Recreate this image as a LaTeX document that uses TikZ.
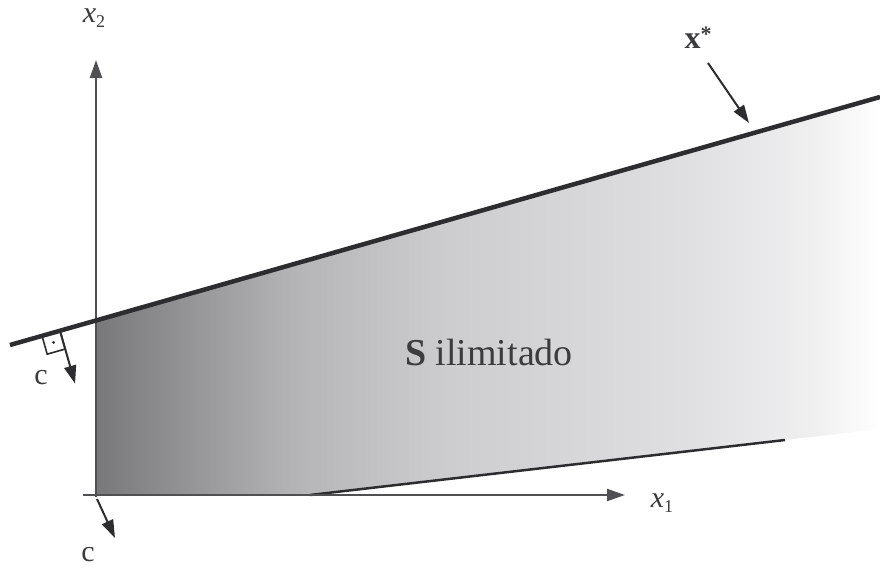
\documentclass[tikz,border=0pt]{standalone}
\usepackage{fontspec}
\setmainfont{Liberation Serif}
\usetikzlibrary{arrows.meta,calc}
\definecolor{axisc}{RGB}{80,80,82}
\definecolor{linec}{RGB}{45,45,47}
\definecolor{textc}{RGB}{60,60,62}
\pgfdeclarehorizontalshading{sfade}{100bp}{
  color(0bp)=(rgb,255:red,120;green,120;blue,123);
  color(25bp)=(rgb,255:red,120;green,120;blue,123);
  color(37.5bp)=(rgb,255:red,180;green,180;blue,183);
  color(47.5bp)=(rgb,255:red,205;green,205;blue,208);
  color(62.5bp)=(rgb,255:red,223;green,223;blue,225);
  color(71bp)=(rgb,255:red,240;green,240;blue,241);
  color(75bp)=(rgb,255:red,255;green,255;blue,255);
  color(100bp)=(rgb,255:red,255;green,255;blue,255)}
\begin{document}
\begin{tikzpicture}[x=1pt,y=-1pt,
  tip/.style={-{Triangle[length=18pt,width=12pt]}},
  axis/.style={draw=axisc,line width=2pt,tip},
  lbl/.style={text=textc,font=\fontsize{30}{32}\selectfont,inner sep=0pt}]
\useasboundingbox (0,0) rectangle (880,572);
\fill[white] (0,0) rectangle (880,572);
% key coordinates
\coordinate (L0) at (10,345);
\coordinate (L1) at (880,97);
\coordinate (O) at (96,495);
\coordinate (B0) at (310,495);
\coordinate (B1) at (785,440);
\coordinate (P0) at ($(L0)!{86/870}!(L1)$);
% shaded unbounded region
\shade[shading=sfade] (P0) -- (L1) -- (880,429) -- (B0) -- (O) -- cycle;
% lower boundary
\draw[linec,line width=2.5pt] (B0) -- (B1);
% axes
\coordinate (Xs) at (83,495);
\coordinate (Xe) at (625,495);
\coordinate (Ys) at (96,497);
\coordinate (Ye) at (96,60);
\draw[axis] (Xs) -- (Xe);
\draw[axis] (Ys) -- (Ye);
\node[lbl] (x1) at (662,503) {\textit{x}\raisebox{-0.35ex}{\fontsize{18}{20}\selectfont 1}};
\node[lbl] (x2) at (94,18) {\textit{x}\raisebox{-0.35ex}{\fontsize{18}{20}\selectfont 2}};
% thick objective line
\draw[linec,line width=4.5pt] (L0) -- (L1);
% x* arrow
\node[lbl,font=\fontsize{32}{34}\selectfont\bfseries] (xs) at (698,38) {x\raisebox{0.45ex}{\fontsize{22}{24}\selectfont *}};
\coordinate (xa) at (708,63);
\coordinate (xb) at (749,123);
\draw[draw=linec,line width=2pt,tip] (xa) -- (xb);
% right angle mark and c vector
\coordinate (Q0) at ($(L0)!{32/870}!(L1)$);
\coordinate (Q1) at ($(L0)!{50/870}!(L1)$);
\coordinate (Q2) at ($(Q1)+(0.2741*19,0.9617*19)$);
\coordinate (Q3) at ($(Q0)+(0.2741*19,0.9617*19)$);
\draw[linec,line width=1.6pt] (Q0) -- (Q3) -- (Q2) -- (Q1);
\fill[linec] ($(Q0)!0.5!(Q2)$) circle (1.6pt);
\coordinate (ct) at ($(Q1)+(0.2741*55,0.9617*55)$);
\draw[draw=linec,line width=2pt,tip] (Q1) -- (ct);
\node[lbl] (c1) at (41,378) {c};
% c at origin
\coordinate (cb) at (115,538);
\draw[draw=linec,line width=2pt,tip] (97,499) -- (cb);
\node[lbl] (c2) at (88,555) {c};
% region label
\node[text=textc,font=\fontsize{38}{42}\selectfont,inner sep=0pt] (S) at (489,352) {\textbf{S} ilimitado};
\end{tikzpicture}
\end{document}
